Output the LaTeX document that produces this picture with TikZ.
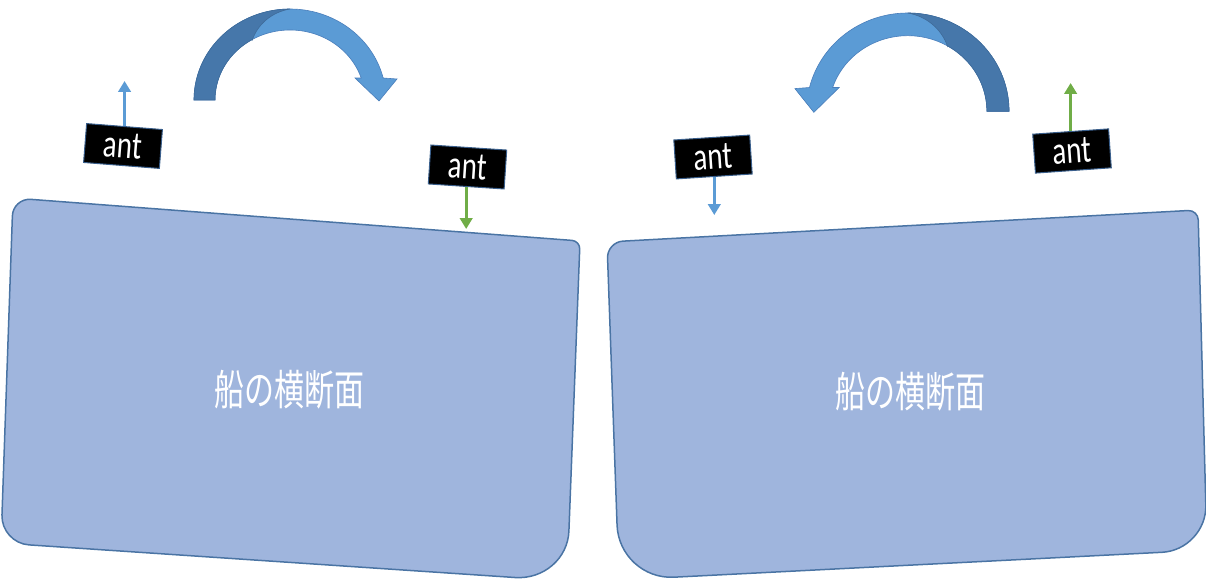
\documentclass[tikz,border=0pt]{standalone}
\usepackage{fontspec}
\usepackage{graphicx}
\usetikzlibrary{arrows.meta,calc}
\newfontfamily\cjk{Noto Sans CJK JP}
\newfontfamily\carl{Carlito}
\definecolor{shipfill}{HTML}{9FB5DD}
\definecolor{shipline}{HTML}{4A74A4}
\definecolor{arrdark}{HTML}{4677AA}
\definecolor{arrlight}{HTML}{5B9BD5}
\definecolor{arrline}{HTML}{4A7EBB}
\definecolor{antblue}{HTML}{5B9BD5}
\definecolor{antgreen}{HTML}{70AD47}
\definecolor{boxline}{HTML}{3A5F8C}
\tikzset{
  ship/.style={fill=shipfill, draw=shipline, line width=1.5pt},
  antbox/.style={fill=black, draw=boxline, line width=1pt, minimum width=76pt,
    minimum height=39pt, inner sep=0pt, text=white,
    font=\carl\fontsize{29}{29}\selectfont},
  antarrow/.style={line width=3pt, -{Triangle[width=12.5pt,length=11pt]}},
  shiplabel/.style={text=white, inner sep=0pt, font=\cjk\fontsize{30}{30}\selectfont}
}
\newcommand\mycurvedarrow{%
    \fill[arrlight, draw=arrline, line width=0.6pt]
      plot[domain=180:14, samples=80, variable=\t] ({290+96*cos(\t)},{100-91*sin(\t)})
      -- (397,79) -- (379,101) -- (355,78)
      -- plot[domain=18.3:180, samples=80, variable=\t] ({290+75*cos(\t)},{100-70*sin(\t)})
      -- cycle;
    \fill[arrdark, draw=arrdark!90!black, line width=0.6pt]
      plot[domain=180:90, samples=60, variable=\t] ({290+96*cos(\t)},{100-91*sin(\t)})
      .. controls (272,12) and (258,24) .. (252.5,39.4)
      -- plot[domain=120:180, samples=40, variable=\t] ({290+75*cos(\t)},{100-70*sin(\t)})
      -- cycle;
}
\begin{document}
\begin{tikzpicture}[x=1pt, y=-1pt]
\useasboundingbox (0,0) rectangle (1206,580);

% left ship
\coordinate (A) at (13,198);
\coordinate (B) at (580,241);
\coordinate (C) at (567,581);
\coordinate (D) at (1,543);
\coordinate (A1) at ($(A)!18pt!(D)$); \coordinate (A2) at ($(A)!18pt!(B)$);
\coordinate (B1) at ($(B)!8pt!(A)$);  \coordinate (B2) at ($(B)!8pt!(C)$);
\coordinate (C1) at ($(C)!50pt!(B)$); \coordinate (C2) at ($(C)!52pt!(D)$);
\coordinate (D1) at ($(D)!28pt!(C)$); \coordinate (D2) at ($(D)!28pt!(A)$);
\draw[ship] (A2) -- (B1)
  .. controls ($(B1)!0.55!(B)$) and ($(B2)!0.55!(B)$) .. (B2) -- (C1)
  .. controls ($(C1)!0.55!(C)$) and ($(C2)!0.55!(C)$) .. (C2) -- (D1)
  .. controls ($(D1)!0.55!(D)$) and ($(D2)!0.55!(D)$) .. (D2) -- (A1)
  .. controls ($(A1)!0.55!(A)$) and ($(A2)!0.55!(A)$) .. (A2) -- cycle;

% right ship
\coordinate (E) at (607,242);
\coordinate (F) at (1198,210);
\coordinate (G) at (1207,550);
\coordinate (H) at (619,580);
\coordinate (E1) at ($(E)!16pt!(H)$); \coordinate (E2) at ($(E)!16pt!(F)$);
\coordinate (F1) at ($(F)!10pt!(E)$); \coordinate (F2) at ($(F)!10pt!(G)$);
\coordinate (G1) at ($(G)!45pt!(F)$); \coordinate (G2) at ($(G)!45pt!(H)$);
\coordinate (H1) at ($(H)!55pt!(G)$); \coordinate (H2) at ($(H)!55pt!(E)$);
\draw[ship] (E2) -- (F1)
  .. controls ($(F1)!0.55!(F)$) and ($(F2)!0.55!(F)$) .. (F2) -- (G1)
  .. controls ($(G1)!0.55!(G)$) and ($(G2)!0.55!(G)$) .. (G2) -- (H1)
  .. controls ($(H1)!0.55!(H)$) and ($(H2)!0.55!(H)$) .. (H2) -- (E1)
  .. controls ($(E1)!0.55!(E)$) and ($(E2)!0.55!(E)$) .. (E2) -- cycle;

% labels
\node[shiplabel] (lbl1) at (289,390) {\scalebox{1}[1.4]{船の横断面}};
\node[shiplabel] (lbl2) at (910,392) {\scalebox{1}[1.4]{船の横断面}};

% curved arrows
\begin{scope}
  \mycurvedarrow
\end{scope}
\begin{scope}[xshift=1213.7pt, yshift=-3.28pt, xscale=-1.055, yscale=1.08]
  \mycurvedarrow
\end{scope}

% antennas
\node[antbox, rotate=-4.5] (ant1) at (123,146) {\scalebox{1}[1.35]{ant}};
\node[antbox, rotate=-3.8] (ant2) at (467.5,167) {\scalebox{1}[1.35]{ant}};
\node[antbox, rotate=3.7] (ant3) at (713,157) {\scalebox{1}[1.35]{ant}};
\node[antbox, rotate=4] (ant4) at (1072,151) {\scalebox{1}[1.35]{ant}};

\coordinate (t1) at (124,81);
\coordinate (t2) at (469,229);
\coordinate (t3) at (713,215);
\coordinate (t4) at (1071,83);
\draw[antarrow, antblue] (ant1.north) -- (ant1.north |- t1);
\draw[antarrow, antgreen] (ant2.south) -- (ant2.south |- t2);
\draw[antarrow, antblue] (ant3.south) -- (ant3.south |- t3);
\draw[antarrow, antgreen] (ant4.north) -- (ant4.north |- t4);
\end{tikzpicture}
\end{document}
